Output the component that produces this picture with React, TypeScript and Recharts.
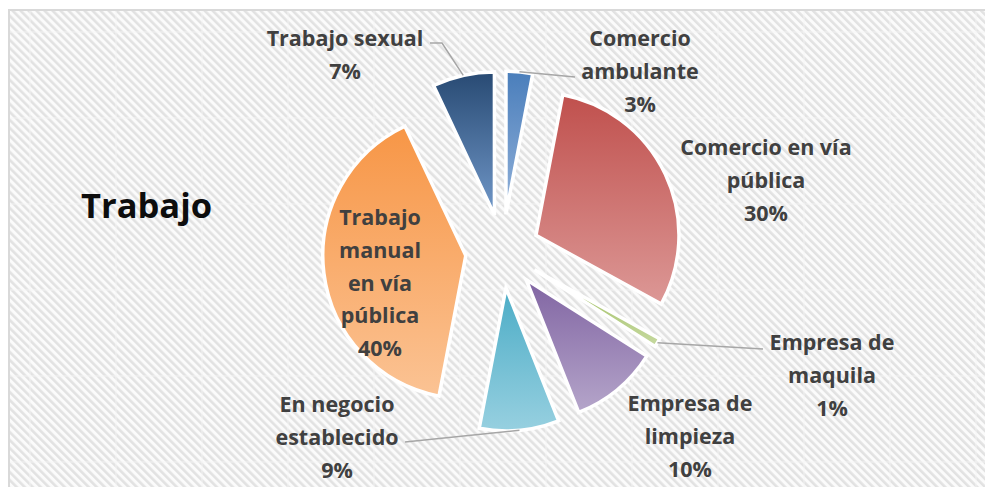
import React from 'react';
import { PieChart, Pie, Cell, Sector } from 'recharts';

const categories = [
  'Comercio ambulante',
  'Comercio en vía pública',
  'Empresa de maquila',
  'Empresa de limpieza',
  'En negocio establecido',
  'Trabajo manual en vía pública',
  'Trabajo sexual',
];
const percents = [3, 30, 1, 10, 9, 40, 7];

// label text, split as in the original
const labelLines = [
  ['Comercio', 'ambulante'],
  ['Comercio en vía', 'pública'],
  ['Empresa de', 'maquila'],
  ['Empresa de', 'limpieza'],
  ['En negocio', 'establecido'],
  ['Trabajo', 'manual', 'en vía', 'pública'],
  ['Trabajo sexual'],
];

const GRADS = [
  ['#4a7ebb', '#93b2da'],
  ['#c0504d', '#dc9896'],
  ['#9bbb59', '#c6d9a0'],
  ['#8064a2', '#b5a5ca'],
  ['#4bacc6', '#97d0e0'],
  ['#f79646', '#fbc394'],
  ['#284a73', '#7198c9'],
];

// where each label sits: centre x, centre y of first line, leader end points
const LABEL_POS = [
  { x: 640, y: 38, line: [[575, 77]] },
  { x: 766, y: 147, line: null },
  { x: 832, y: 342, line: [[763, 349]] },
  { x: 690, y: 403, line: null },
  { x: 337, y: 404, line: [[405, 442]] },
  { x: 380, y: 217, line: null },
  { x: 345, y: 38, line: [[442, 43], [430, 43]] },
];

const data = categories.map((name, i) => ({ name, value: percents[i] }));

const W = 985;
const H = 487;
const EXPLODE = 37;
const RAD = Math.PI / 180;
const FONT = '"Open Sans", Lato, sans-serif';

const ExplodedSector = (props: any) => {
  const { cx, cy, midAngle } = props;
  const dx = EXPLODE * Math.cos(-midAngle * RAD);
  const dy = EXPLODE * Math.sin(-midAngle * RAD);
  return <Sector {...props} cx={cx + dx} cy={cy + dy} />;
};

const renderLabel = (props: any) => {
  const { cx, cy, midAngle, outerRadius, index } = props;
  const pos = LABEL_POS[index];
  const lines = [...labelLines[index], `${percents[index]}%`];
  const ux = Math.cos(-midAngle * RAD);
  const uy = Math.sin(-midAngle * RAD);
  const sx = cx + (EXPLODE + outerRadius) * ux;
  const sy = cy + (EXPLODE + outerRadius) * uy;
  const pts = pos.line ? [[sx, sy], ...pos.line] : null;
  return (
    <g key={`lbl-${index}`}>
      {pts && (
        <polyline
          points={pts.map((p) => p.join(',')).join(' ')}
          fill="none"
          stroke="#a6a6a6"
          strokeWidth={1.5}
        />
      )}
      {lines.map((t, k) => (
        <text
          key={k}
          x={pos.x}
          y={pos.y + k * 32.8 + 8}
          textAnchor="middle"
          fill="#404040"
          fontFamily={FONT}
          fontWeight="bold"
          fontSize={21.5}
        >
          {t}
        </text>
      ))}
    </g>
  );
};

const Background = () => {
  const vx: number[] = [];
  for (let x = 30; x < W; x += 86) vx.push(x);
  const hy: number[] = [];
  for (let y = 32; y < H; y += 86) hy.push(y);
  return (
    <svg width={W} height={H} style={{ position: 'absolute', left: 0, top: 0 }}>
      <defs>
        <pattern
          id="hatch"
          width={5.66}
          height={5.66}
          patternUnits="userSpaceOnUse"
          patternTransform="rotate(-45)"
        >
          <rect width={5.66} height={5.66} fill="#fbfbfb" />
          <rect width={2.6} height={5.66} fill="#e2e2e2" />
        </pattern>
      </defs>
      <rect x={9} y={10} width={W} height={H} fill="url(#hatch)" stroke="#d9d9d9" strokeWidth={2} />
      {vx.map((x) => (
        <line key={`v${x}`} x1={x} y1={11} x2={x} y2={H} stroke="#f6f6f6" strokeWidth={1} opacity={0.8} />
      ))}
      {hy.map((y) => (
        <line key={`h${y}`} x1={10} y1={y} x2={W} y2={y} stroke="#f6f6f6" strokeWidth={1} opacity={0.8} />
      ))}
    </svg>
  );
};

export default function App() {
  return (
    <div style={{ position: 'absolute', left: 0, top: 0, width: W, height: H, background: '#fff' }}>
      <Background />
      <div style={{ position: 'absolute', left: 0, top: 0 }}>
        <PieChart width={W} height={H} margin={{ top: 0, right: 0, bottom: 0, left: 0 }}>
          <defs>
            {GRADS.map(([a, b], i) => (
              <linearGradient key={i} id={`g${i}`} x1="0" y1="0" x2="0" y2="1">
                <stop offset="0%" stopColor={a} />
                <stop offset="100%" stopColor={b} />
              </linearGradient>
            ))}
          </defs>
          <text
            x={81}
            y={218}
            fill="#0d0d0d"
            fontFamily={FONT}
            fontWeight="bold"
            fontSize={34.5}
          >
            Trabajo
          </text>
          <Pie
            data={data}
            dataKey="value"
            nameKey="name"
            cx={502.5}
            cy={251}
            outerRadius={143}
            startAngle={90}
            endAngle={-270}
            stroke="#ffffff"
            strokeWidth={3.5}
            shape={ExplodedSector}
            label={renderLabel}
            labelLine={false}
            isAnimationActive={false}
          >
            {data.map((_, i) => (
              <Cell key={`c${i}`} fill={`url(#g${i})`} />
            ))}
          </Pie>
        </PieChart>
      </div>
    </div>
  );
}
